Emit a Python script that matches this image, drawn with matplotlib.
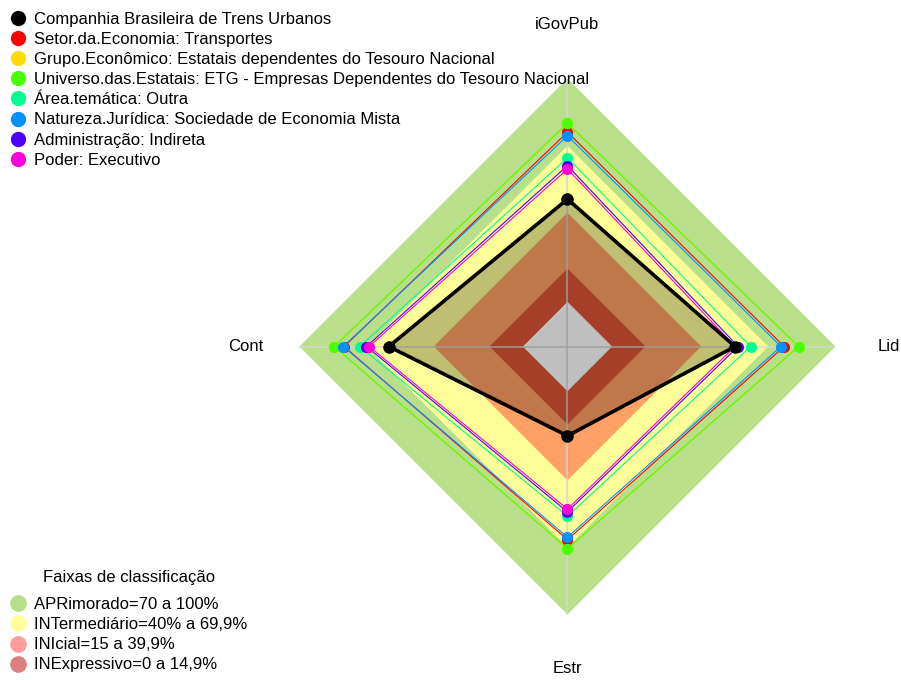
"""
Radar iGovPub - Companhia Brasileira de Trens Urbanos x grupos de comparação
"""
import numpy as np
import matplotlib
matplotlib.use("Agg")
import matplotlib.pyplot as plt
from matplotlib.lines import Line2D

plt.rcParams['font.family'] = ['Liberation Sans', 'DejaVu Sans']

# Eixos do radar (sentido anti-horário a partir do topo)
eixos = ["iGovPub", "Cont", "Estr", "Lid"]

# Séries (valores em %, na ordem dos eixos acima)
nomes = [
    "Companhia Brasileira de Trens Urbanos",
    "Setor.da.Economia: Transportes",
    "Grupo.Econômico: Estatais dependentes do Tesouro Nacional",
    "Universo.das.Estatais: ETG - Empresas Dependentes do Tesouro Nacional",
    "Área.temática: Outra",
    "Natureza.Jurídica: Sociedade de Economia Mista",
    "Administração: Indireta",
    "Poder: Executivo",
]
companhia = [46, 60, 20, 55]
setor = [76, 80, 66.5, 77]
grupo = [80, 84.4, 70.5, 83.5]
universo = [80, 84.4, 70.5, 83.5]
area = [64.5, 73, 56, 62]
natureza = [74.4, 80.4, 65.4, 75.6]
administracao = [61, 70, 54, 56.4]
poder = [59.5, 68.8, 52.8, 55]
series = [companhia, setor, grupo, universo, area, natureza, administracao, poder]
cores = ["#000000", "#FF0000", "#FFDB00", "#49FF00",
         "#00FF92", "#0092FF", "#4900FF", "#FF00DB"]

# Faixas de classificação (limite superior em %)
faixas_lim = [100, 69.9, 39.9, 14.9, 0]
faixas_cor = ["#B8DF8A", "#FFFF99", "#FFA066", "#DD5535", "#FFFFFF"]
faixas_nome = ["APRimorado=70 a 100%", "INTermediário=40% a 69,9%",
               "INIcial=15 a 39,9%", "INExpressivo=0 a 14,9%"]
faixas_leg = ["#B5DF88", "#FFFF9C", "#FF9C9C", "#DF8080"]

SEG = 5  # segmentos, como no fmsb (centro vazio = 1/(seg+1))
ang = np.pi / 2 + np.arange(len(eixos)) * 2 * np.pi / len(eixos)


def xy(valores):
    v = np.asarray(valores, dtype=float) / 100
    r = (1 + SEG * v) / (SEG + 1)
    x = r * np.cos(ang)
    y = r * np.sin(ang)
    return np.append(x, x[0]), np.append(y, y[0])


fig = plt.figure(figsize=(9.01, 6.8), dpi=100)
ax = fig.add_axes([0.3324, 0.0963, 0.5949, 0.7882])
ax.set_xlim(-1, 1)
ax.set_ylim(-1, 1)
ax.axis("off")

# faixas
for lim, cor in zip(faixas_lim, faixas_cor):
    x, y = xy([lim] * len(eixos))
    ax.fill(x, y, color=cor, lw=0, zorder=1)

# linhas dos eixos
for a in ang:
    ax.plot([0, np.cos(a)], [0, np.sin(a)], color="#D4D4D4", lw=1.3,
            alpha=0.8, zorder=2)

# séries (a empresa por último, por cima)
for i in list(range(1, len(series))) + [0]:
    x, y = xy(series[i])
    if i == 0:
        ax.fill(x, y, color="black", alpha=0.25, lw=0, zorder=3)
        ax.plot(x, y, color="black", lw=2.6, zorder=5)
        ax.plot(x[:-1], y[:-1], "o", color="black", ms=8, zorder=6)
    else:
        ax.plot(x, y, color=cores[i], lw=0.8, zorder=4)
        ax.plot(x[:-1], y[:-1], "o", color=cores[i], ms=8, mec="none",
                zorder=4)

# rótulos dos eixos
for nome, a in zip(eixos, ang):
    ax.text(1.2 * np.cos(a), 1.2 * np.sin(a), nome, ha="center",
            va="center", fontsize=12, clip_on=False)

# legenda das séries
h1 = [Line2D([], [], marker="o", ls="none", color=c, mec="none", ms=11)
      for c in cores]
leg1 = fig.legend(h1, nomes, loc="upper left", bbox_to_anchor=(0, 0.994),
                  frameon=False, fontsize=12, borderaxespad=0, borderpad=0.45,
                  handlelength=1.25, handletextpad=0.35, labelspacing=0.31)

# legenda das faixas
h2 = [Line2D([], [], marker="o", ls="none", color=c, mec="none", ms=12)
      for c in faixas_leg]
leg2 = fig.legend(h2, faixas_nome, loc="lower left", bbox_to_anchor=(0, 0),
                  frameon=False, fontsize=12, borderaxespad=0, borderpad=0.45,
                  handlelength=1.25, handletextpad=0.35, labelspacing=0.31)
fig.text(0.143, 0.151, "Faixas de classificação", ha="center", va="center",
         fontsize=12)

fig.savefig("out.png", dpi=100)
